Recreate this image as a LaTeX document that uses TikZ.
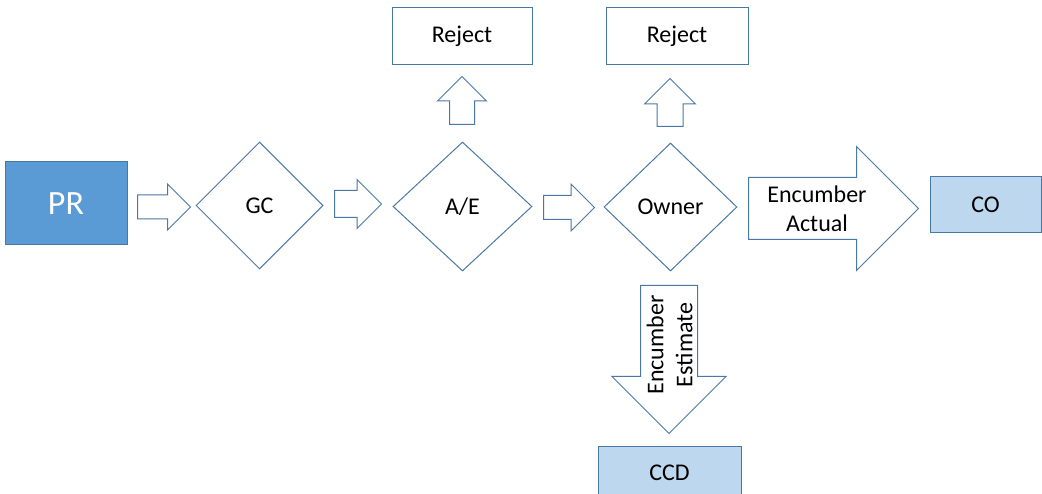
\documentclass[tikz,border=0pt]{standalone}
\usepackage{fontspec}
\setmainfont{Carlito}
\usetikzlibrary{shapes.geometric, shapes.arrows, positioning}
\definecolor{edgeblue}{RGB}{74,120,165}
\definecolor{prblue}{RGB}{91,155,213}
\definecolor{paleblue}{RGB}{189,215,238}

\begin{document}
\begin{tikzpicture}[
	x=1pt, y=-1pt,
	font=\fontsize{24}{29}\selectfont,
	every node/.style = {draw=edgeblue, line width=1pt},
	box/.style = {rectangle, minimum width=140pt, minimum height=57pt},
	dec/.style = {diamond, inner sep=0pt},
	fat/.style = {single arrow, single arrow tip angle=90, inner sep=0pt, anchor=tail},
	shaft/.style = {text height=#1, text depth=#1},
	tag/.style = {draw=none, align=center, inner sep=0pt}
	]
\useasboundingbox (0,0) rectangle (1042,494);
% main row
\node[box, fill=prblue, text=white, minimum width=122pt, minimum height=83pt,
      font=\fontsize{34}{40}\selectfont] (pr) at (66,203.5) {PR};
\node[dec, minimum width=127pt, minimum height=127pt] (gc) at (259.5,205.5) {GC};
\node[dec, minimum width=139pt, minimum height=129pt] (ae) at (462.5,206.5) {A/E};
\node[dec, minimum width=133pt, minimum height=128pt] (own) at (670.5,207) {Owner};
\node[box, fill=paleblue, minimum width=111pt, minimum height=56pt] (co) at (985.5,205) {CO};
%
\node[box] (rej1) at (462,36.5) {Reject};
\node[box, minimum width=142pt] (rej2) at (677,36.5) {Reject};
\node[box, fill=paleblue, minimum width=143pt, minimum height=54pt] (ccd) at (669.5,473) {CCD};
% block arrows
\node[fat, shaft=11.5pt, minimum height=53pt, single arrow head extend=11pt] (a1) at (137,207) {};
\node[fat, shaft=13pt, minimum height=47pt, single arrow head extend=11pt] (a2) at (334,204) {};
\node[fat, shaft=11.5pt, minimum height=51pt, single arrow head extend=11.5pt] (a3) at (543,207.5) {};
\node[fat, shaft=30.5pt, minimum height=170pt, single arrow head extend=31pt] (a4) at (748,208.5) {};
\node[fat, rotate=90, shaft=12pt, minimum height=48pt, single arrow head extend=12pt] (u1) at (462,125) {};
\node[fat, rotate=90, shaft=12.5pt, minimum height=48pt, single arrow head extend=12.5pt] (u2) at (670,127) {};
\node[fat, rotate=-90, shaft=28pt, minimum height=148pt, single arrow head extend=28.5pt] (d1) at (669,285) {};
% arrow texts
\node[tag] (act) at (817,209) {Encumber\\Actual};
\node[tag, rotate=90] (est) at (669.5,345) {Encumber\\Estimate};
\end{tikzpicture}
\end{document}
